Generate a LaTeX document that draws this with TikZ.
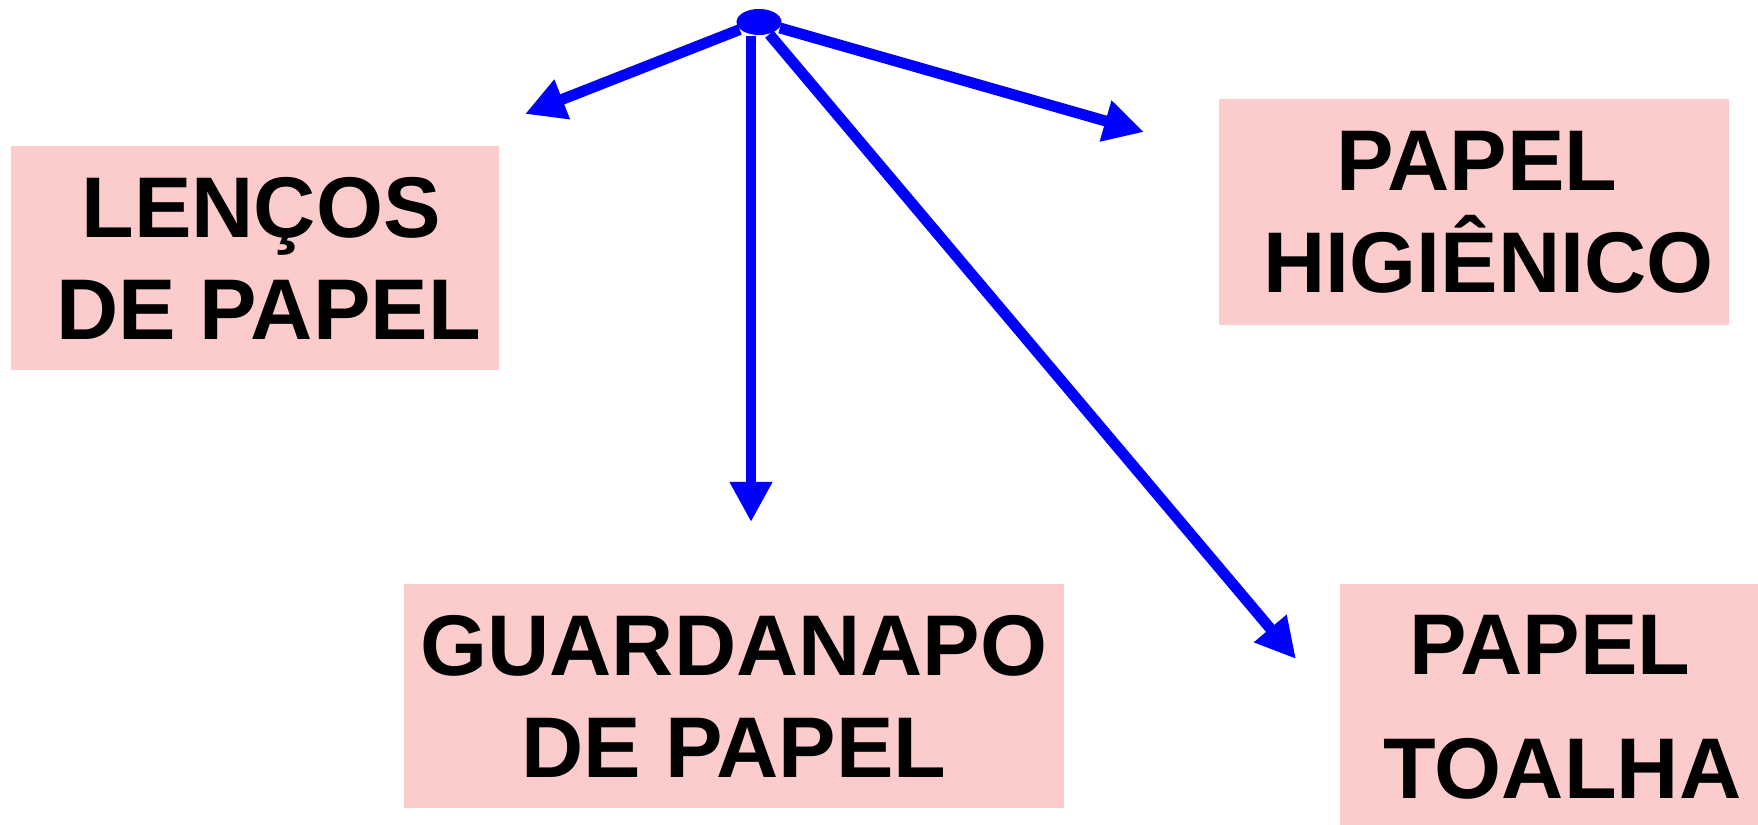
\documentclass[tikz,border=0pt]{standalone}
\usepackage{fontspec}
\setmainfont{Liberation Sans}
\usetikzlibrary{arrows.meta, shapes.geometric}
\definecolor{caixa}{RGB}{252,204,204}
\tikzset{
	tipo/.style={fill=caixa, font=\fontsize{24.5}{29}\selectfont\bfseries, align=center, inner sep=0pt}, % caixas rosa
	seta/.style={draw=blue, line width=3.1pt, -{Triangle[length=0.4cm, width=0.4cm]}} % setas azuis
}

\begin{document}
\begin{tikzpicture}[x=0.01cm, y=-0.01cm]
	\useasboundingbox (0,0) rectangle (1758,825);
	\node[tipo, minimum width=4.88cm, minimum height=2.24cm] (lencos) at (255,258) {\hspace*{0.12cm}LENÇOS\\\hspace*{0.27cm}DE PAPEL};
	\node[tipo, minimum width=5.09cm, minimum height=2.25cm] (higienico) at (1474,212) {\hspace*{0.06cm}PAPEL\\\hspace*{0.29cm}HIGIÊNICO};
	\node[tipo, minimum width=6.60cm, minimum height=2.24cm] (guardanapo) at (734,696) {GUARDANAPO\\DE PAPEL};
	\node[tipo, minimum width=4.19cm, minimum height=2.46cm] (toalha) at (1550,707) {PAPEL\\[0.22cm]\hspace*{0.25cm}TOALHA};
	\coordinate (pL) at (525,114);
	\coordinate (pH) at (1144,132);
	\coordinate (pG) at (751,522);
	\coordinate (pT) at (1296,659);
	\node[ellipse, fill=blue, minimum width=0.45cm, minimum height=0.26cm, inner sep=0pt] (hub) at (759,22) {};
	\draw[seta] (hub) -- (pL);
	\draw[seta] (hub) -- (pH);
	\draw[seta] (pG |- hub.south) -- (pG);
	\draw[seta] (hub) -- (pT);
\end{tikzpicture}
\end{document}
